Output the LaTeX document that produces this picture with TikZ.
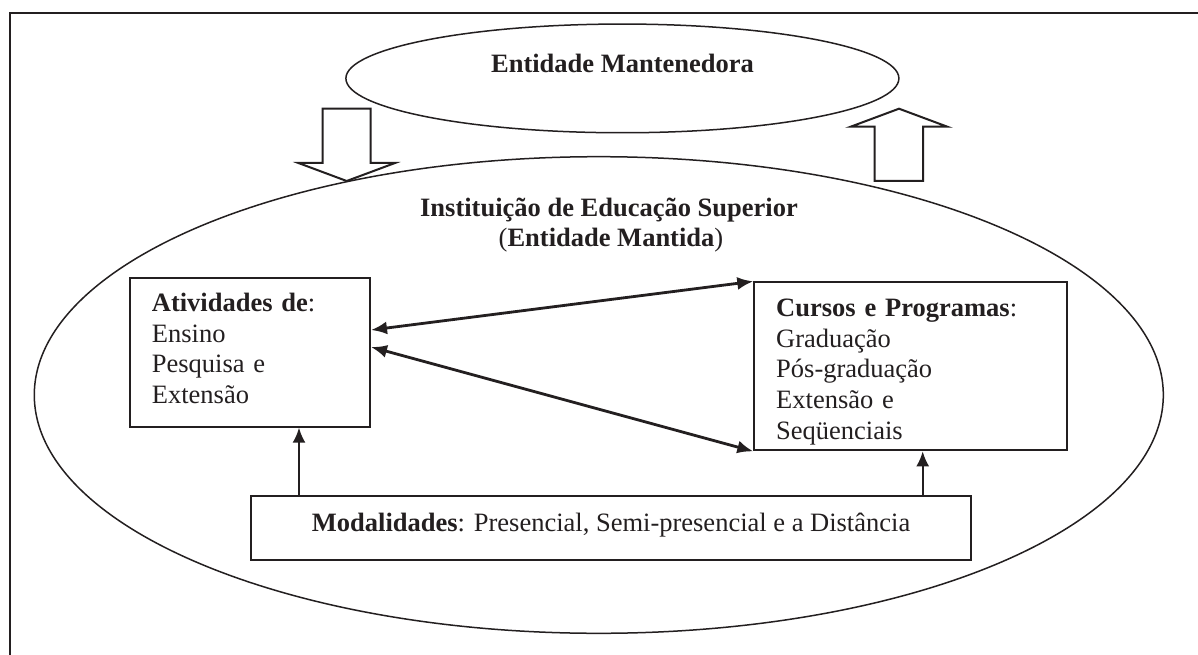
\documentclass[tikz,border=0pt]{standalone}
\usepackage{fontspec}
\setmainfont{Liberation Serif}
\usetikzlibrary{shapes.geometric,arrows.meta,calc}
\definecolor{ink}{RGB}{35,31,32}
\begin{document}
\begin{tikzpicture}[x=1pt,y=-1pt,
  txt/.style={font=\fontsize{26.5}{30.6}\selectfont, inner sep=0pt, text=ink},
  oval/.style={ellipse, draw=ink, line width=1.5pt, inner sep=0pt},
  boxnode/.style={rectangle, draw=ink, line width=2pt, inner sep=0pt},
  dblarrow/.style={draw=ink, line width=2.8pt, {Latex[length=16pt,width=13pt]}-{Latex[length=16pt,width=13pt]}},
  uparrow/.style={draw=ink, line width=2pt, -{Latex[length=15pt,width=13pt]}},
  blockarrow/.style={draw=ink, fill=white, line width=2pt, line join=miter},
  frameline/.style={draw=ink, line width=2.5pt}
]
\fill[white] (0,0) rectangle (1198,655);
\useasboundingbox (0,0) rectangle (1198,655);

% frame
\draw[frameline] (1200,13) -- (10,13) -- (10,657);

% ellipses
\node[oval, minimum width=553pt, minimum height=108.7pt] (mant) at (622.4,78.4) {};
\node[oval, minimum width=1129pt, minimum height=476.6pt] (ies) at (598.8,395) {};

% block arrows
\draw[blockarrow] (322.7,108.7) -- (370.7,108.7) -- (370.7,163) -- (395,163)
  -- (346.7,181) -- (298.4,163) -- (322.7,163) -- cycle;
\draw[blockarrow] (874.7,181) -- (923,181) -- (923,126.7) -- (947.3,126.7)
  -- (899,108.7) -- (850.7,126.7) -- (874.7,126.7) -- cycle;

% boxes
\node[boxnode, minimum width=240pt, minimum height=149pt] (atv) at (250,352.2) {};
\node[boxnode, minimum width=313pt, minimum height=168pt] (cur) at (910.8,366.35) {};
\node[boxnode, minimum width=720.3pt, minimum height=64.3pt] (mod) at (610.85,527.85) {};

% texts
\node[txt, anchor=base] (manttxt) at (622.5,72.7) {\textbf{Entidade Mantenedora}};
\node[txt, anchor=base] (iestxt1) at (609,216) {\textbf{Instituição de Educação Superior}};
\node[txt, anchor=base] (iestxt2) at (611,246.7) {(\textbf{Entidade Mantida})};
\node[txt, anchor=base west, text width=210pt, align=left] (atvtxt) at (151.7,311.7)
  {\textbf{Atividades de}:\\Ensino\\Pesquisa e\\Extensão};
\node[txt, anchor=base west, text width=280pt, align=left] (curtxt) at (776,316.7)
  {\textbf{Cursos e Programas}:\\Graduação\\Pós-graduação\\Extensão e\\Seqüenciais};
\node[txt, anchor=base west] (modtxt) at (311.7,531.7)
  {\textbf{Modalidades}: Presencial, Semi-presencial e a Distância};

% connectors
\draw[dblarrow] ([yshift=22.2pt]atv.east) -- (cur.north west);
\draw[dblarrow] ([yshift=5.2pt]atv.east) -- (cur.south west);
\coordinate (vl) at (299,0);
\coordinate (vr) at (922.7,0);
\draw[uparrow] ([yshift=-2pt]mod.north -| vl) -- (atv.south -| vl);
\draw[uparrow] ([yshift=-2pt]mod.north -| vr) -- (cur.south -| vr);
\end{tikzpicture}
\end{document}
